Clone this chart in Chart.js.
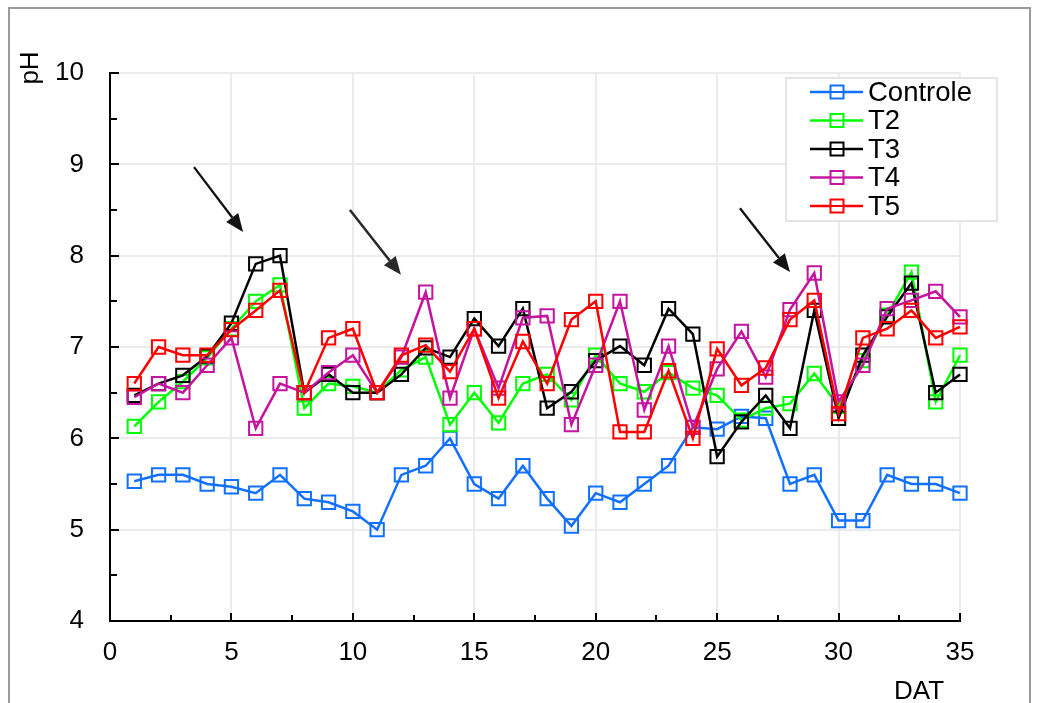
<!DOCTYPE html>
<html>
<head>
<meta charset="utf-8">
<script src="https://cdn.jsdelivr.net/npm/chart.js@4.4.1/dist/chart.umd.min.js"></script>
<style>
  html, body { margin: 0; padding: 0; background: #fff; }
  #wrap { width: 1041px; height: 703px; position: relative; }
</style>
</head>
<body>
<div id="wrap"><canvas id="c" width="1041" height="703"></canvas></div>
<script>
// Days after treatment (DAT)
const days = [1,2,3,4,5,6,7,8,9,10,11,12,13,14,15,16,17,18,19,20,21,22,23,24,25,26,27,28,29,30,31,32,33,34,35];

// pH readings per treatment
const controle = [5.53,5.6,5.6,5.5,5.47,5.4,5.6,5.34,5.3,5.2, 5.0,5.6,5.7,6.0,5.5,5.34,5.7,5.34,5.04,5.4, 5.3,5.5,5.7,6.12,6.1,6.24,6.22,5.5,5.6,5.1, 5.1,5.6,5.5,5.5,5.4];
const t2 = [6.13,6.4,6.62,6.88,7.2,7.5,7.68,6.33,6.6,6.57, 6.5,6.75,6.89,6.15,6.5,6.17,6.6,6.7,6.42,6.91, 6.6,6.51,6.72,6.55,6.47,6.2,6.33,6.38,6.71,6.35, 6.85,7.35,7.82,6.4,6.91];
const t3 = [6.47,6.6,6.69,6.9,7.26,7.91,8.0,6.5,6.7,6.5, 6.5,6.7,6.99,6.89,7.31,7.01,7.42,6.33,6.51,6.85, 7.01,6.8,7.42,7.14,5.8,6.18,6.47,6.11,7.4,6.22, 6.91,7.33,7.7,6.5,6.7];
const t4 = [6.45,6.6,6.5,6.8,7.1,6.11,6.6,6.5,6.72,6.91, 6.5,6.89,7.6,6.44,7.2,6.55,7.32,7.34,6.15,6.8, 7.5,6.31,7.01,6.12,6.76,7.17,6.67,7.41,7.81,6.4, 6.8,7.42,7.51,7.61,7.33];
const t5 = [6.6,7.0,6.91,6.91,7.19,7.4,7.62,6.5,7.1,7.2, 6.5,6.91,7.02,6.73,7.2,6.44,7.06,6.6,7.3,7.5, 6.07,6.07,6.74,6.0,6.98,6.58,6.77,7.3,7.51,6.27, 7.1,7.2,7.4,7.1,7.22];

const seriesNames = ['Controle', 'T2', 'T3', 'T4', 'T5'];
const seriesValues = [controle, t2, t3, t4, t5];
const seriesColors = ['#1170ff', '#00ff00', '#000000', '#c414a0', '#ff0000'];

// Axis tick labels
const xTicks = [0, 5, 10, 15, 20, 25, 30, 35];
const yTicks = [4, 5, 6, 7, 8, 9, 10];

// Arrow annotations, endpoints in data units [x0, y0, x1, y1]
const arrowMarks = [
  [3.46, 8.97, 5.48, 8.26],
  [9.88, 8.50, 11.98, 7.79],
  [25.94, 8.52, 28.0, 7.82]
];

const FONT = '"Liberation Sans", Arial, sans-serif';

const datasets = seriesNames.map((name, i) => ({
  label: name,
  data: days.map((d, j) => ({ x: d, y: seriesValues[i][j] })),
  borderColor: seriesColors[i],
  backgroundColor: 'transparent',
  borderWidth: 2.5,
  pointStyle: 'rect',
  pointRadius: 9.4,
  pointHoverRadius: 9.4,
  pointBorderWidth: 2,
  pointBackgroundColor: 'transparent',
  pointBorderColor: seriesColors[i],
  tension: 0,
  clip: false,
  order: seriesNames.length - i
}));

// White page with a gray frame around the figure
const framePlugin = {
  id: 'frame',
  beforeDraw(chart) {
    const ctx = chart.ctx;
    ctx.save();
    ctx.fillStyle = '#fff';
    ctx.fillRect(0, 0, chart.width, chart.height);
    ctx.strokeStyle = '#9a9a9a';
    ctx.lineWidth = 2;
    ctx.beginPath();
    ctx.moveTo(9, 720);
    ctx.lineTo(9, 8);
    ctx.lineTo(1030, 8);
    ctx.lineTo(1030, 720);
    ctx.stroke();
    ctx.restore();
  }
};

// Inward tick marks, axis titles, arrows and legend box
const overlayPlugin = {
  id: 'overlay',
  afterDraw(chart) {
    const ctx = chart.ctx;
    const xs = chart.scales.x, ys = chart.scales.y;
    const area = chart.chartArea;
    ctx.save();

    // tick marks pointing into the plot
    ctx.strokeStyle = '#000';
    ctx.lineWidth = 2;
    ctx.beginPath();
    for (let v = 0; v <= 35.001; v += 2.5) {
      const px = Math.round(xs.getPixelForValue(v));
      const len = (Math.abs(v % 5) < 1e-6) ? 8 : 6;
      ctx.moveTo(px, area.bottom);
      ctx.lineTo(px, area.bottom - len);
    }
    for (let v = 4; v <= 10.001; v += 0.5) {
      const py = Math.round(ys.getPixelForValue(v));
      const len = (Math.abs(v % 1) < 1e-6) ? 9 : 7;
      ctx.moveTo(area.left, py);
      ctx.lineTo(area.left + len, py);
    }
    ctx.stroke();

    // axis titles
    ctx.fillStyle = '#000';
    ctx.font = '26px ' + FONT;
    ctx.textAlign = 'center';
    ctx.textBaseline = 'alphabetic';
    ctx.fillText('DAT', 919, 699);
    ctx.save();
    ctx.translate(38, 68);
    ctx.rotate(-Math.PI / 2);
    ctx.fillText('pH', 0, 0);
    ctx.restore();

    // arrows
    arrowMarks.forEach((a, k) => {
      const x0 = xs.getPixelForValue(a[0]), y0 = ys.getPixelForValue(a[1]);
      const x1 = xs.getPixelForValue(a[2]), y1 = ys.getPixelForValue(a[3]);
      const ang = Math.atan2(y1 - y0, x1 - x0);
      const headLen = 18, headHalf = 7.5;
      const bx = x1 - headLen * Math.cos(ang), by = y1 - headLen * Math.sin(ang);
      const col = k === 1 ? '#2a2a2a' : '#111';
      ctx.strokeStyle = col;
      ctx.fillStyle = col;
      ctx.lineWidth = k === 1 ? 2.6 : 2.3;
      ctx.beginPath();
      ctx.moveTo(x0, y0);
      ctx.lineTo(bx, by);
      ctx.stroke();
      ctx.beginPath();
      ctx.moveTo(x1, y1);
      ctx.lineTo(bx + headHalf * Math.sin(ang), by - headHalf * Math.cos(ang));
      ctx.lineTo(bx - headHalf * Math.sin(ang), by + headHalf * Math.cos(ang));
      ctx.closePath();
      ctx.fill();
    });

    // legend
    const lx = 786, ly = 78, lw = 211, lh = 143;
    ctx.fillStyle = '#fff';
    ctx.fillRect(lx, ly, lw, lh);
    ctx.strokeStyle = '#e4e4e4';
    ctx.lineWidth = 2;
    ctx.strokeRect(lx, ly, lw, lh);
    ctx.font = '27.5px ' + FONT;
    ctx.textAlign = 'left';
    ctx.textBaseline = 'middle';
    chart.data.datasets.forEach((ds, i) => {
      const cy = ly + 14 + i * 28.5;
      ctx.strokeStyle = ds.borderColor;
      ctx.lineWidth = 2.5;
      ctx.beginPath();
      ctx.moveTo(lx + 24, cy);
      ctx.lineTo(lx + 77, cy);
      ctx.stroke();
      ctx.fillStyle = '#fff';
      ctx.fillRect(lx + 44.5, cy - 6.5, 13, 13);
      ctx.lineWidth = 2;
      ctx.strokeRect(lx + 44.5, cy - 6.5, 13, 13);
      ctx.beginPath();
      ctx.moveTo(lx + 44.5, cy);
      ctx.lineTo(lx + 57.5, cy);
      ctx.stroke();
      ctx.fillStyle = '#000';
      ctx.fillText(ds.label, lx + 82, cy + 1);
    });

    ctx.restore();
  }
};

new Chart(document.getElementById('c'), {
  type: 'line',
  data: { datasets },
  plugins: [framePlugin, overlayPlugin],
  options: {
    responsive: false,
    animation: false,
    events: [],
    layout: { padding: { top: 73, right: 81, left: 0, bottom: 0 } },
    plugins: { legend: { display: false }, tooltip: { enabled: false }, title: { display: false } },
    scales: {
      x: {
        type: 'linear',
        min: 0, max: 35,
        afterBuildTicks: s => { s.ticks = xTicks.map(v => ({ value: v })); },
        afterFit: s => { s.height = 82; },
        grid: { color: '#ebebeb', lineWidth: 2, drawTicks: false },
        border: { display: true, color: '#000', width: 2 },
        ticks: { color: '#000', font: { family: FONT, size: 26 }, padding: 16, maxRotation: 0, autoSkip: false }
      },
      y: {
        type: 'linear',
        min: 4, max: 10,
        afterBuildTicks: s => { s.ticks = yTicks.map(v => ({ value: v })); },
        afterFit: s => { s.width = 110; },
        grid: { color: '#ebebeb', lineWidth: 2, drawTicks: false },
        border: { display: true, color: '#000', width: 2 },
        ticks: { color: '#000', font: { family: FONT, size: 26 }, padding: 26 }
      }
    }
  }
});
</script>
</body>
</html>
